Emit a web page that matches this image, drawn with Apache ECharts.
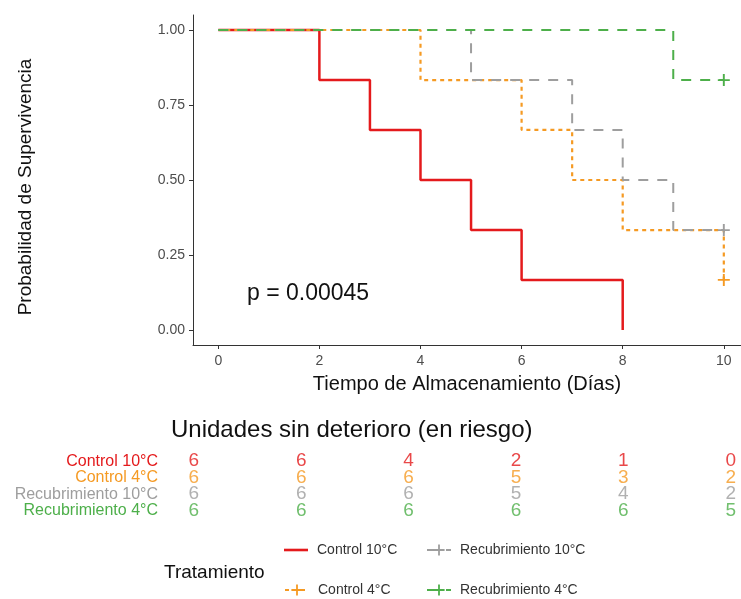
<!DOCTYPE html>
<html>
<head>
<meta charset="utf-8">
<script src="https://cdn.jsdelivr.net/npm/echarts@6/dist/echarts.min.js"></script>
<style>
  html, body { margin: 0; padding: 0; background: #fff; }
  #main { width: 741px; height: 599px; }
</style>
</head>
<body>
<div id="main"></div>
<script>
// grupos y colores
var groups = ["Control 10°C", "Control 4°C", "Recubrimiento 10°C", "Recubrimiento 4°C"];
var colors = ["#E41A1C", "#F59A23", "#9E9E9E", "#4DAF4A"];

// curvas de Kaplan-Meier (tiempo, supervivencia)
var control10Time = [0, 2, 3, 4, 5, 6, 8];
var control10Surv = [1, 0.833, 0.667, 0.5, 0.333, 0.167, 0];
var control4Time = [0, 4, 6, 7, 8, 10];
var control4Surv = [1, 0.833, 0.667, 0.5, 0.333, 0.167];
var recub10Time = [0, 5, 7, 8, 9, 10];
var recub10Surv = [1, 0.833, 0.667, 0.5, 0.333, 0.333];
var recub4Time = [0, 9, 10];
var recub4Surv = [1, 0.833, 0.833];
// censura al final de la curva (1 = hay marca "+")
var censored = [0, 1, 1, 1];

// tabla de riesgo
var riskTimes = [0, 2, 4, 6, 8, 10];
var riskControl10 = [6, 6, 4, 2, 1, 0];
var riskControl4 = [6, 6, 6, 5, 3, 2];
var riskRecub10 = [6, 6, 6, 5, 4, 2];
var riskRecub4 = [6, 6, 6, 6, 6, 5];

var xTicks = [0, 2, 4, 6, 8, 10];
var yTicks = [0, 0.25, 0.5, 0.75, 1];
var pText = "p = 0.00045";

var FONT = "Liberation Sans";
var PLUS = "path://M4.2,0H5.8V4.2H10V5.8H5.8V10H4.2V5.8H0V4.2H4.2Z";
var LINE_ICON = "path://M0,0H24V2.6H0Z";

var chart = echarts.init(document.getElementById("main"));

var curves = [
  { t: control10Time, s: control10Surv, type: "solid", width: 2.5 },
  { t: control4Time, s: control4Surv, type: [4, 4], width: 2.2 },
  { t: recub10Time, s: recub10Surv, type: [10, 9], width: 2 },
  { t: recub4Time, s: recub4Surv, type: [10, 9], width: 2 }
];
var risks = [riskControl10, riskControl4, riskRecub10, riskRecub4];

var series = [];
curves.forEach(function (c, i) {
  var data = c.t.map(function (t, k) {
    var last = k === c.t.length - 1;
    return { value: [t, c.s[k]], symbol: (last && censored[i]) ? PLUS : "none" };
  });
  series.push({
    name: groups[i],
    type: "line",
    step: "end",
    xAxisIndex: 0,
    yAxisIndex: 0,
    symbol: censored[i] ? PLUS : "none",
    symbolSize: 12,
    showSymbol: true,
    data: data,
    itemStyle: { color: colors[i] },
    lineStyle: { color: colors[i], width: c.width, type: c.type },
    emphasis: { disabled: true },
    z: 2 + i
  });
});

risks.forEach(function (r, i) {
  series.push({
    type: "scatter",
    xAxisIndex: 1,
    yAxisIndex: 1,
    symbolSize: 1,
    itemStyle: { color: "rgba(0,0,0,0)" },
    data: riskTimes.map(function (t, k) { return [t, groups[i], r[k]]; }),
    label: {
      show: true,
      position: "inside",
      formatter: function (p) { return p.value[2]; },
      color: colors[i],
      fontSize: 19,
      fontFamily: FONT
    }
  });
});

var rich = {};
colors.forEach(function (c, i) {
  rich["g" + i] = { color: c, fontSize: 16, fontFamily: FONT };
});

function legendAt(name, left, top, icon) {
  var item = { name: name };
  if (icon) item.icon = icon;
  return {
    data: [item],
    left: left,
    top: top,
    itemWidth: 24,
    itemHeight: 14,
    itemGap: 0,
    textStyle: { fontSize: 14, color: "#333", fontFamily: FONT, padding: [0, 0, 0, 4] }
  };
}

chart.setOption({
  backgroundColor: "#fff",
  animation: false,
  textStyle: { fontFamily: FONT },
  title: [
    { text: "Unidades sin deterioro (en riesgo)", left: 166, top: 413,
      textStyle: { fontSize: 24, fontWeight: "normal", color: "#111", fontFamily: FONT } },
    { text: "Tratamiento", left: 159, top: 558,
      textStyle: { fontSize: 19, fontWeight: "normal", color: "#111", fontFamily: FONT } },
    { text: pText, left: 242, top: 277,
      textStyle: { fontSize: 23, fontWeight: "normal", color: "#111", fontFamily: FONT } }
  ],
  legend: [
    legendAt(groups[0], 279, 538, LINE_ICON),
    legendAt(groups[2], 421, 538),
    legendAt(groups[1], 279, 578),
    legendAt(groups[3], 421, 578)
  ],
  grid: [
    { left: 193, right: 0, top: 15, height: 330 },
    { left: 167, right: 0, top: 453, height: 66 }
  ],
  xAxis: [
    {
      type: "value", gridIndex: 0, min: -0.5, max: 10.34,
      name: "Tiempo de Almacenamiento (Días)", nameLocation: "middle", nameGap: 29,
      nameTextStyle: { fontSize: 20, color: "#111", fontFamily: FONT },
      axisLine: { show: true, onZero: false, lineStyle: { color: "#333", width: 1 } },
      axisTick: { show: true, customValues: xTicks, length: 4, lineStyle: { color: "#333" } },
      axisLabel: { customValues: xTicks, color: "#4D4D4D", fontSize: 14, margin: 9 },
      splitLine: { show: false }
    },
    {
      type: "value", gridIndex: 1, min: -0.5, max: 10.19, show: false
    }
  ],
  yAxis: [
    {
      type: "value", gridIndex: 0, min: -0.05, max: 1.05,
      name: "Probabilidad de Supervivencia", nameLocation: "middle", nameGap: 158,
      nameTextStyle: { fontSize: 19, color: "#111", fontFamily: FONT, padding: [0, 14, 0, 0] },
      axisLine: { show: true, onZero: false, lineStyle: { color: "#333", width: 1 } },
      axisTick: { show: true, customValues: yTicks, length: 4, lineStyle: { color: "#333" } },
      axisLabel: {
        customValues: yTicks, color: "#4D4D4D", fontSize: 14, margin: 8,
        formatter: function (v) { return v.toFixed(2); }
      },
      splitLine: { show: false }
    },
    {
      type: "category", gridIndex: 1, inverse: true, data: groups,
      axisLine: { show: false }, axisTick: { show: false }, splitLine: { show: false },
      axisLabel: {
        margin: 9,
        formatter: function (v, idx) { return "{g" + idx + "|" + v + "}"; },
        rich: rich
      }
    }
  ],
  series: series
});
</script>
</body>
</html>
